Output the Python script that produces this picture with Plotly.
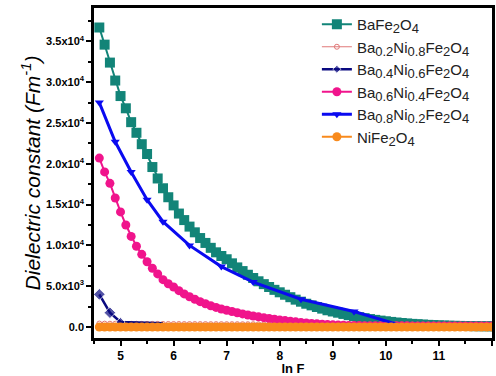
import plotly.graph_objects as go

# ln F grid shared by the densely sampled series
ln_f = [4.6, 4.7, 4.8, 4.9, 5.0, 5.1, 5.2, 5.3, 5.4, 5.5, 5.6, 5.7, 5.8, 5.9,
        6.0, 6.1, 6.2, 6.3, 6.4, 6.5, 6.6, 6.7, 6.8, 6.9, 7.0, 7.1, 7.2, 7.3,
        7.4, 7.5, 7.6, 7.7, 7.8, 7.9, 8.0, 8.1, 8.2, 8.3, 8.4, 8.5, 8.6, 8.7,
        8.8, 8.9, 9.0, 9.1, 9.2, 9.3, 9.4, 9.5, 9.6, 9.7, 9.8, 9.9, 10.0, 10.1,
        10.2, 10.3, 10.4, 10.5, 10.6, 10.7, 10.8, 10.9, 11.0, 11.1, 11.2, 11.3,
        11.4, 11.5, 11.6, 11.7, 11.8, 11.9, 12.0]

ba_fe2o4 = [36700, 34600, 32400, 30200, 28300, 26800, 25100, 23800, 22400, 21200,
            19600, 18200, 17000, 15900, 14900, 13900, 13100, 12300, 11600, 10900,
            10300, 9700, 9150, 8700, 8300, 7800, 7300, 6850, 6400, 6000,
            5600, 5250, 4900, 4550, 4250, 3950, 3650, 3350, 3100, 2850,
            2650, 2450, 2250, 2050, 1900, 1750, 1600, 1450, 1320, 1200,
            1080, 970, 870, 780, 700, 620, 550, 490, 430, 380,
            340, 300, 260, 230, 200, 180, 160, 140, 130, 120,
            110, 100, 95, 90, 85]

ba06_ni04 = [20700, 19000, 17600, 15800, 14100, 12500, 11100, 9900, 8900, 8000,
             7200, 6500, 5800, 5300, 4900, 4450, 4050, 3700, 3400, 3100,
             2850, 2600, 2400, 2200, 2050, 1900, 1750, 1600, 1470, 1350,
             1240, 1140, 1040, 950, 860, 780, 700, 630, 560, 500,
             440, 390, 340, 300, 260, 230, 210, 190, 180, 170,
             160, 155, 150, 150, 145, 145, 140, 140, 140, 135,
             135, 135, 130, 130, 130, 130, 125, 125, 125, 125,
             120, 120, 120, 120, 120]

ba02_ni08 = [420, 410, 400, 400, 395, 390, 390, 385, 380, 380,
             375, 375, 370, 370, 365, 365, 360, 360, 360, 355,
             355, 350, 350, 350, 345, 345, 345, 340, 340, 340,
             335, 335, 335, 330, 330, 330, 325, 325, 325, 320,
             320, 320, 320, 315, 315, 315, 315, 310, 310, 310,
             310, 305, 305, 305, 305, 300, 300, 300, 300, 300,
             295, 295, 295, 295, 290, 290, 290, 290, 290, 285,
             285, 285, 285, 280, 280]

ni_fe2o4 = [0] * len(ln_f)

# Sparsely sampled series
ln_f_ba08 = [4.6, 4.9, 5.2, 5.5, 5.8, 6.3, 6.9, 7.5, 8.4, 9.4, 10.3, 11.3, 12.3]
ba08_ni02 = [27500, 22700, 19000, 15600, 12900, 10000, 7400, 5500, 3400, 1900, 150, 60, 20]

ln_f_ba04 = [4.6, 4.8, 5.0, 5.8]
ba04_ni06 = [4000, 1750, 620, 450]

y_ticks = [0, 5000, 10000, 15000, 20000, 25000, 30000, 35000]
y_tick_text = ["0.0", "5.0x10<sup>3</sup>", "1.0x10<sup>4</sup>", "1.5x10<sup>4</sup>",
               "2.0x10<sup>4</sup>", "2.5x10<sup>4</sup>", "3.0x10<sup>4</sup>",
               "3.5x10<sup>4</sup>"]
x_ticks = [5, 6, 7, 8, 9, 10, 11, 12]


def sub(s):
    """Subscript drawn a little larger than plotly's default 70 %."""
    return f"<sub><span style='font-size:13px'>{s}</span></sub>"


fig = go.Figure()

fig.add_trace(go.Scatter(
    x=ln_f, y=ba_fe2o4, mode="lines+markers",
    name=f"BaFe{sub('2')}O{sub('4')}",
    line=dict(color="#128478", width=2),
    marker=dict(symbol="square", size=10, color="#128478")))

fig.add_trace(go.Scatter(
    x=ln_f, y=ba02_ni08, mode="lines+markers",
    name=f"Ba{sub('0.2')}Ni{sub('0.8')}Fe{sub('2')}O{sub('4')}",
    line=dict(color="#E07878", width=1),
    marker=dict(symbol="circle-open", size=5, color="#E07878")))

fig.add_trace(go.Scatter(
    x=ln_f_ba04, y=ba04_ni06, mode="lines+markers",
    name=f"Ba{sub('0.4')}Ni{sub('0.6')}Fe{sub('2')}O{sub('4')}",
    line=dict(color="#0A0A80", width=2.5),
    marker=dict(symbol="diamond", size=[9, 9, 7, 0], color="#0A0A80")))

fig.add_trace(go.Scatter(
    x=ln_f, y=ba06_ni04, mode="lines+markers",
    name=f"Ba{sub('0.6')}Ni{sub('0.4')}Fe{sub('2')}O{sub('4')}",
    line=dict(color="#F0148C", width=2),
    marker=dict(symbol="circle", size=9, color="#F0148C")))

fig.add_trace(go.Scatter(
    x=ln_f_ba08, y=ba08_ni02, mode="lines+markers",
    name=f"Ba{sub('0.8')}Ni{sub('0.2')}Fe{sub('2')}O{sub('4')}",
    line=dict(color="#0A0AF0", width=3),
    marker=dict(symbol="triangle-down", size=8, color="#0A0AF0")))

fig.add_trace(go.Scatter(
    x=ln_f, y=ni_fe2o4, mode="lines+markers",
    name=f"NiFe{sub('2')}O{sub('4')}",
    line=dict(color="#F88A1C", width=2),
    marker=dict(symbol="circle", size=9, color="#F88A1C")))

axis_font = dict(family="Liberation Sans, Arial, sans-serif", size=11, color="black")

fig.update_layout(
    width=496, height=376,
    margin=dict(l=94, r=1, t=8, b=38),
    paper_bgcolor="white", plot_bgcolor="white",
    font=dict(family="Liberation Sans, Arial, sans-serif", color="black"),
    legend=dict(x=0.56, y=1.0, xanchor="left", yanchor="top",
                bgcolor="rgba(0,0,0,0)", itemwidth=30,
                font=dict(size=15, color="#222222"), tracegroupgap=0),
    xaxis=dict(
        range=[4.5, 12.0], tickvals=x_ticks,
        ticktext=[f"<b>{v}</b>" for v in x_ticks],
        tickfont=dict(axis_font, size=12), ticks="outside", ticklen=5, tickwidth=2,
        tickcolor="black", showline=True, linewidth=2.5, linecolor="black",
        mirror=True, showgrid=False, zeroline=False,
        minor=dict(dtick=0.5, tick0=4.5, ticks="outside", ticklen=3,
                   tickwidth=2, tickcolor="black", showgrid=False),
        title=dict(text="<b>ln F</b>", font=dict(size=13), standoff=2)),
    yaxis=dict(
        range=[-1350, 39090], tickvals=y_ticks,
        ticktext=[f"<b>{t}</b>" for t in y_tick_text],
        tickfont=axis_font, ticks="outside", ticklen=5, tickwidth=2,
        tickcolor="black", showline=True, linewidth=2.5, linecolor="black",
        mirror=True, showgrid=False, zeroline=False,
        minor=dict(dtick=2500, tick0=0, ticks="outside", ticklen=3,
                   tickwidth=2, tickcolor="black", showgrid=False),
        title=dict(text="<i>Dielectric constant (Fm<sup>-1</sup>)</i>",
                   font=dict(size=21), standoff=0)),
)

fig.write_html("out.html")
